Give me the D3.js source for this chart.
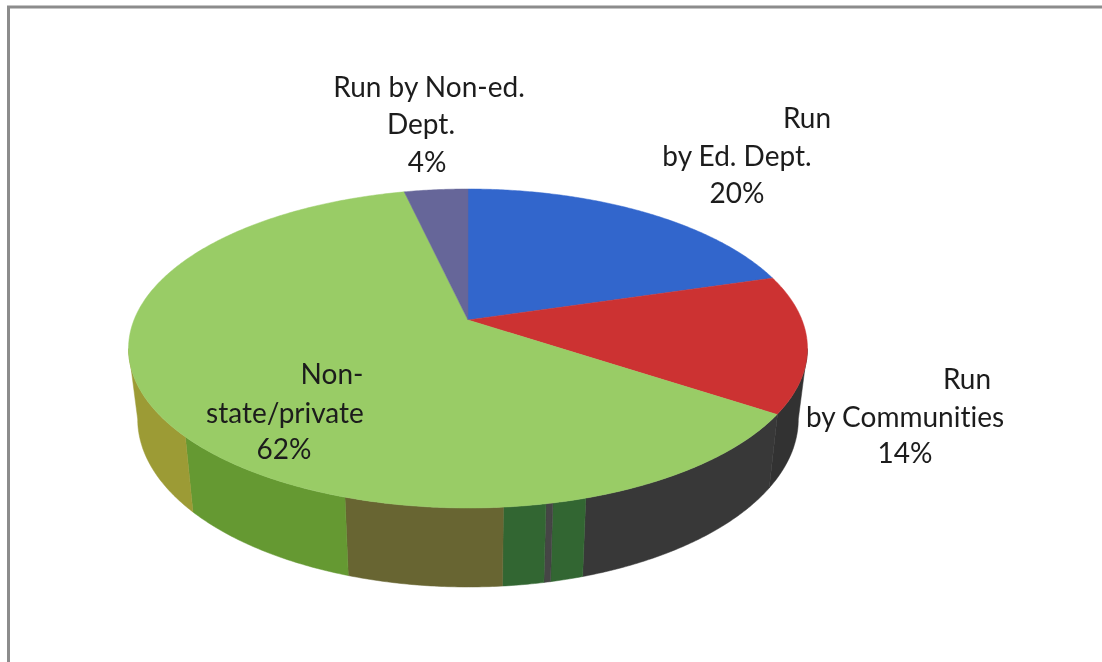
<!DOCTYPE html>
<html>
<head>
<meta charset="utf-8">
<script src="https://cdn.jsdelivr.net/npm/d3@7"></script>
<style>
	html, body { margin: 0; padding: 0; background: #fff; }
	svg { display: block; }
	text { font-family: Lato, "Open Sans", sans-serif; font-size: 28px; fill: #1c1c1c; font-variant-ligatures: none; }
</style>
</head>
<body>
<svg id="chart" width="1102" height="662"></svg>
<script>
var categories = ['Run by Ed. Dept.', 'Run by Communities', 'Non-state/private', 'Run by Non-ed. Dept.'];
var shares = [20.4, 13.9, 62.1, 3.6];
var sliceColors = ['#3366cc', '#cc3333', '#99cc66', '#666699'];

// the side wall of the original is not coloured by slice, so it has its own bands
// (degrees clockwise from the top of the pie)
var wallBands = [
	[100.3, 123.3, '#303030'],
	[123.3, 163, '#383838'],
	[163, 167.9, '#336633'],
	[167.9, 168.9, '#444444'],
	[168.9, 175, '#336633'],
	[175, 197.8, '#676531'],
	[197.8, 228.2, '#659933'],
	[228.2, 259.7, '#9c9b36']
];

var labelLines = [
	['Run', 'by Ed. Dept.', '20%'],
	['Run', 'by Communities', '14%'],
	['Non-', 'state/private', '62%'],
	['Run by Non-ed.', 'Dept.', '4%']
];
var labelCenters = [
	[807, 737, 737],
	[967, 905, 905],
	[332, 285, 284],
	[429, 421, 427]
];
var labelBaselines = [
	[128, 166, 203],
	[389, 427, 463],
	[384, 423, 459],
	[97, 134, 172]
];

var svg = d3.select('#chart');

// the source is a blurry screenshot
svg.append('filter')
	.attr('id', 'soft')
	.append('feGaussianBlur')
	.attr('stdDeviation', 0.5);

var root = svg.append('g').attr('filter', 'url(#soft)');

// perspective: a disc tilted away from the viewer
var tilt = 0.1787;
var topFace = { cx: 468, cy: 320, a: 334, b: 154.4 };
var bottomFace = { cx: 468, cy: 389, a: 325, b: 162.6 };

var project = function(face, deg) {
	var t = deg * Math.PI / 180,
		u = Math.sin(t),
		v = -Math.cos(t),
		w = 1 - tilt * v;
	return [face.cx + face.a * u / w, face.cy + face.b * v / w];
};

var arcPoints = function(face, from, to) {
	var n = Math.max(2, Math.ceil(Math.abs(to - from) * 2));
	return d3.range(n + 1).map(function(i) {
		return project(face, from + (to - from) * i / n);
	});
};

var line = d3.line();

// frame
root.append('path')
	.attr('d', 'M8.5,670V7H1110')
	.attr('fill', 'none')
	.attr('stroke', '#8c8c8c')
	.attr('stroke-width', 3);

// side wall
root.append('g')
	.selectAll('path')
	.data(wallBands)
	.enter()
	.append('path')
	.attr('d', function(d) {
		var pts = arcPoints(topFace, d[0], d[1])
			.concat(arcPoints(bottomFace, d[1], d[0]));
		return line(pts) + 'Z';
	})
	.attr('fill', function(d) { return d[2]; })
	.attr('stroke', function(d) { return d[2]; })
	.attr('stroke-width', 0.5);

// top face
var pie = d3.pie().sort(null)(shares);
var color = d3.scaleOrdinal().domain(categories).range(sliceColors);

root.append('g')
	.selectAll('path')
	.data(pie)
	.enter()
	.append('path')
	.attr('d', function(d) {
		var from = d.startAngle * 180 / Math.PI,
			to = d.endAngle * 180 / Math.PI;
		return line([[topFace.cx, topFace.cy]].concat(arcPoints(topFace, from, to))) + 'Z';
	})
	.attr('fill', function(d, i) { return color(categories[i]); })
	.attr('stroke', function(d, i) { return color(categories[i]); })
	.attr('stroke-width', 0.5);

// labels
labelLines.forEach(function(lines, i) {
	lines.forEach(function(txt, j) {
		root.append('text')
			.attr('x', labelCenters[i][j])
			.attr('y', labelBaselines[i][j])
			.attr('text-anchor', 'middle')
			.text(txt);
	});
});
</script>
</body>
</html>
